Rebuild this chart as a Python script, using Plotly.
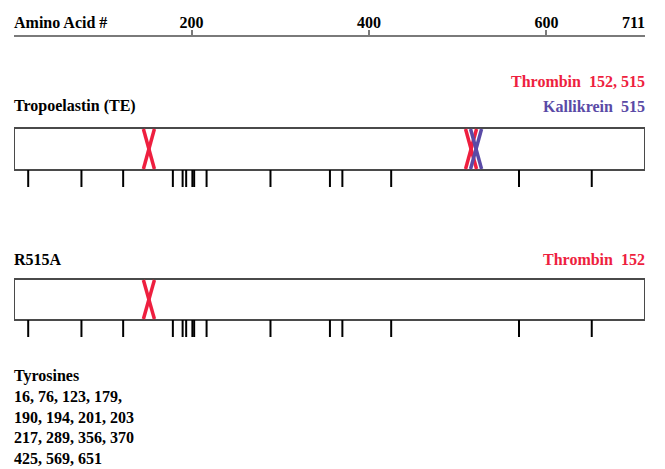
import plotly.graph_objects as go

# ---- data ----
seq_length = 711
axis_ticks = [200, 400, 600]
tyrosines = [16, 76, 123, 179, 190, 194, 201, 203, 217, 289, 356, 370, 425, 569, 651]
te_thrombin = [152, 515]
te_kallikrein = [515]
r515a_thrombin = [152]

W, H = 665, 469
X0_PX, X1_PX = 14, 645
px_per_unit = (X1_PX - X0_PX) / seq_length

RED = "#ee1f3f"
PURPLE = "#5a4aa6"
BOX = "#4a4a4a"
AXIS = "#7a7a7a"
FONT = "Liberation Serif"

fig = go.Figure()
shapes = []
annotations = []

def add_box(top, bottom):
    shapes.append(dict(type="rect", xref="x", yref="y", x0=0, x1=seq_length,
                       y0=top, y1=bottom, line=dict(color=BOX, width=2),
                       fillcolor="white", layer="below"))
    for t in tyrosines:
        shapes.append(dict(type="line", xref="x", yref="y", x0=t, x1=t,
                           y0=bottom, y1=bottom + 17, line=dict(color="black", width=2)))

def add_cross(pos, top, bottom, color, shift_px=0):
    hw = 5.5 / px_per_unit
    c = pos + shift_px / px_per_unit
    for a, b in [(c - hw, c + hw), (c + hw, c - hw)]:
        shapes.append(dict(type="line", xref="x", yref="y", x0=a, x1=b,
                           y0=top + 1, y1=bottom - 1, line=dict(color=color, width=3.5)))

def text(x, y, s, color="black", xanchor="left", align="left"):
    annotations.append(dict(x=x, y=y, xref="x", yref="y", text=s, showarrow=False,
                            xanchor=xanchor, yanchor="middle", align=align,
                            xshift=-2 if xanchor == "left" else 2,
                            font=dict(family=FONT, size=16, color=color, weight="bold")))

# Tropoelastin
te_top, te_bot = 128, 170
add_box(te_top, te_bot)
for p in te_thrombin:
    add_cross(p, te_top, te_bot, RED)
for p in te_kallikrein:
    add_cross(p, te_top, te_bot, PURPLE, shift_px=5)
text(0, 106, "Tropoelastin (TE)")
text(seq_length, 81, "Thrombin  " + ", ".join(str(v) for v in te_thrombin), RED, "right")
text(seq_length, 106, "Kallikrein  " + ", ".join(str(v) for v in te_kallikrein), PURPLE, "right")

# R515A
r_top, r_bot = 279, 320
add_box(r_top, r_bot)
for p in r515a_thrombin:
    add_cross(p, r_top, r_bot, RED)
text(0, 259, "R515A")
text(seq_length, 259, "Thrombin  " + ", ".join(str(v) for v in r515a_thrombin), RED, "right")

# Tyrosines list
rows = [tyrosines[0:4], tyrosines[4:8], tyrosines[8:12], tyrosines[12:]]
lines = ["Tyrosines"]
for i, r in enumerate(rows):
    s = ", ".join(str(v) for v in r)
    if i == 0:
        s += ","
    lines.append(s)
text(0, 417, "<br>".join(lines))

# Top axis labels
text(0, 22, "Amino Acid #")
text(seq_length, 22, str(seq_length), xanchor="right")

fig.add_trace(go.Scatter(x=[0, seq_length], y=[400, 400], mode="markers",
                         marker=dict(opacity=0), hoverinfo="skip", showlegend=False))

fig.update_layout(
    width=W, height=H, margin=dict(l=0, r=0, t=0, b=0),
    paper_bgcolor="white", plot_bgcolor="white",
    shapes=shapes, annotations=annotations, showlegend=False,
    xaxis=dict(domain=[X0_PX / W, X1_PX / W], range=[0, seq_length],
               side="top", anchor="free", position=1 - 36 / H,
               showline=True, linecolor=AXIS, linewidth=2,
               tickvals=axis_ticks, ticks="outside", ticklen=5, tickwidth=1.5,
               tickcolor=AXIS, showgrid=False, zeroline=False, ticklabelstandoff=-4,
               tickfont=dict(family=FONT, size=16, color="black", weight="bold")),
    yaxis=dict(domain=[0, 1], range=[H, 0], visible=False, showgrid=False, zeroline=False),
)

fig.write_html("out.html")
